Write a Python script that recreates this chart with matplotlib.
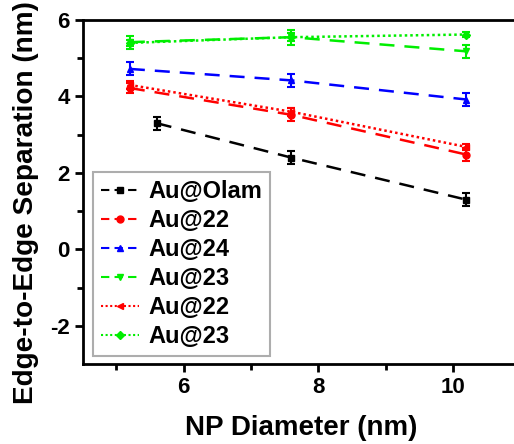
import numpy as np
import matplotlib.pyplot as plt
from matplotlib.lines import Line2D

plt.rcParams['font.family'] = ['Liberation Sans', 'DejaVu Sans']
plt.rcParams['font.weight'] = 'bold'
plt.rcParams['axes.unicode_minus'] = False

# data
x_olam = [5.6, 7.6, 10.2]
x_all = [5.2, 7.6, 10.2]

olam = [3.3, 2.4, 1.3]
olam_err = [0.17, 0.17, 0.17]
au22 = [4.22, 3.52, 2.48]
au22_err = [0.12, 0.17, 0.17]
au24 = [4.72, 4.42, 3.92]
au24_err = [0.17, 0.17, 0.17]
au23 = [5.42, 5.55, 5.18]
au23_err = [0.17, 0.2, 0.17]
au22b = [4.3, 3.6, 2.68]
au22b_err = [0.1, 0.1, 0.08]
au23b = [5.4, 5.55, 5.62]
au23b_err = [0.08, 0.1, 0.06]

labels = ['Au@Olam', 'Au@22', 'Au@24', 'Au@23', 'Au@22', 'Au@23']

fig = plt.figure(figsize=(5.14, 4.44), dpi=100)
ax = fig.add_axes([0.161, 0.18, 0.851, 0.775])

series = [
    (x_olam, olam, olam_err, 'black', 's', (0, (6, 4))),
    (x_all, au22, au22_err, 'red', 'o', (0, (6, 4))),
    (x_all, au24, au24_err, 'blue', '^', (0, (6, 4))),
    (x_all, au23, au23_err, '#00ee00', 'v', (0, (6, 4))),
    (x_all, au22b, au22b_err, 'red', '<', (0, (1, 1.2))),
    (x_all, au23b, au23b_err, '#00ee00', 'D', (0, (1, 1.2))),
]

handles = []
for (xs, ys, es, c, m, ls), lab in zip(series, labels):
    ms = 5 if m != 'D' else 4.5
    ax.errorbar(xs, ys, yerr=es, color=c, marker=m, ms=ms,
                linestyle=ls, lw=1.8, capsize=3, elinewidth=1.5, capthick=1.5)
    handles.append(Line2D([], [], color=c, marker=m, ms=ms, lw=1.5,
                          linestyle=(0, (4, 2.5)) if ls[1][0] > 2 else (0, (1, 1.2)),
                          label=lab))

ax.set_xlim(4.5, 11)
ax.set_ylim(-3, 6)
ax.set_xticks([6, 8, 10])
ax.set_xticks([5, 7, 9], minor=True)
ax.set_yticks([-2, 0, 2, 4, 6])
ax.set_yticks([-1, 1, 3, 5], minor=True)

ax.spines['right'].set_visible(False)
for s in ['left', 'bottom', 'top']:
    ax.spines[s].set_linewidth(2)
ax.tick_params(which='major', direction='out', length=6, width=2, labelsize=16)
ax.tick_params(which='minor', direction='out', length=4, width=2)

ax.set_xlabel('NP Diameter (nm)', fontsize=20, fontweight='bold', labelpad=12)
ax.set_ylabel('Edge-to-Edge Separation (nm)', fontsize=20.2, fontweight='bold')
ax.yaxis.set_label_coords(-0.1, 0.468)

leg = ax.legend(handles=handles, loc='upper left', bbox_to_anchor=(0.023, 0.558),
                borderaxespad=0, fontsize=17, frameon=True, fancybox=False,
                edgecolor='#999999', handlelength=1.6, handletextpad=0.4,
                labelspacing=0.25, borderpad=0.35)
leg.get_frame().set_linewidth(1.5)

fig.savefig('out.png', dpi=100)
